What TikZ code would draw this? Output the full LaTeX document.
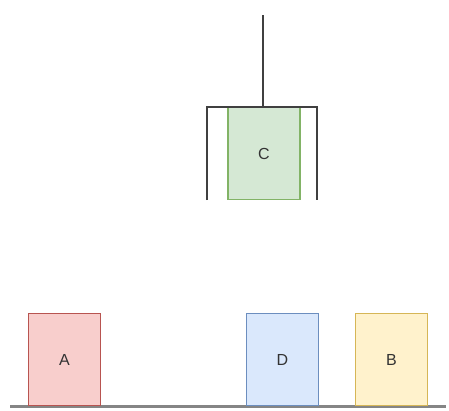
\documentclass[tikz,border=0pt]{standalone}
\usepackage{fontspec}
\setmainfont{Liberation Sans}
\definecolor{redfill}{HTML}{F8CECC}\definecolor{redline}{HTML}{B85450}
\definecolor{bluefill}{HTML}{DAE8FC}\definecolor{blueline}{HTML}{6C8EBF}
\definecolor{yellowfill}{HTML}{FFF2CC}\definecolor{yellowline}{HTML}{D6B656}
\definecolor{greenfill}{HTML}{D5E8D4}\definecolor{greenline}{HTML}{82B366}
\definecolor{ground}{HTML}{858585}
\definecolor{labeltext}{HTML}{333333}
\begin{document}
\begin{tikzpicture}[x=1pt,y=-1pt,
  block/.style={draw=#1line,fill=#1fill,line width=1.2pt,minimum width=72pt,minimum height=92pt,
    inner sep=0pt,font=\fontsize{16}{18}\selectfont,text=labeltext},
  grip/.style={line width=1.5pt,draw=black!75}]
\useasboundingbox (0,0) rectangle (449,410);
% floor
\draw[ground,line width=3pt] (10,406) -- (446,406);
% blocks on the floor
\node[block=red] (A) at (64.5,359.5) {A};
\node[block=blue] (D) at (282.5,359.5) {D};
\node[block=yellow] (B) at (391.5,359.5) {B};
% block held by the gripper
\node[block=green] (C) at (264,153.5) {C};
% gripper
\coordinate (top) at (263,15);
\coordinate (hub) at (263,107);
\coordinate (lt) at (207,107);
\coordinate (rt) at (317,107);
\draw[grip] (top) -- (hub);
\draw[grip] (207,200) -- (lt) -- (rt) -- (317,200);
\end{tikzpicture}
\end{document}
